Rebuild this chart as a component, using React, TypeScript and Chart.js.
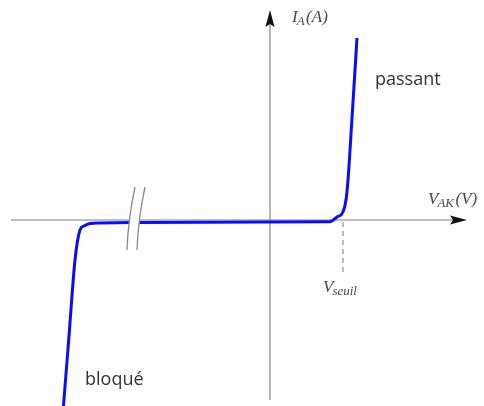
import React, { useEffect, useRef } from "react";
import { Chart, registerables } from "chart.js";

Chart.register(...registerables);

// Diode characteristic I_A = f(V_AK), schematic units
const voltage = [-2.07, -2.01, -1.95, -1.9, -1.86, -1.8, -1.7, -1.4, 0.6, 0.67, 0.73, 0.76, 0.78, 0.825, 0.87];
const current = [-9.6, -5.8, -2.0, -0.5, -0.3, -0.18, -0.15, -0.13, -0.085, 0.15, 0.4, 1.0, 2.0, 5.5, 9.1];

const vSeuil = 0.73;
const xRange = [-2.7, 2.14];
const yRange = [-9.3, 11];

const axisLabels = {
  x: ["V", "AK", "(V)"],
  y: ["I", "A", "(A)"],
  seuil: ["V", "seuil", ""],
};
const regionLabels = ["passant", "bloqué"];

function drawSubscripted(
  ctx: CanvasRenderingContext2D,
  parts: string[],
  x: number,
  y: number,
  size: number
) {
  const [main, sub, rest] = parts;
  ctx.textBaseline = "alphabetic";
  ctx.textAlign = "left";
  ctx.font = `italic ${size}px "Liberation Serif"`;
  ctx.fillText(main, x, y);
  let cx = x + ctx.measureText(main).width - 1;
  const subSize = Math.round(size * 0.74);
  ctx.font = `italic ${subSize}px "Liberation Serif"`;
  ctx.fillText(sub, cx, y + 3);
  cx += ctx.measureText(sub).width + 1.5;
  ctx.font = `italic ${size}px "Liberation Serif"`;
  if (rest) ctx.fillText(rest, cx, y);
}

const axesPlugin = {
  id: "diodeAxes",
  beforeDatasetsDraw(chart: any) {
    const { ctx, scales, height } = chart;
    const x0 = scales.x.getPixelForValue(0);
    const y0 = scales.y.getPixelForValue(0);
    ctx.save();
    ctx.strokeStyle = "#a8a8a8";
    ctx.lineWidth = 1.6;
    // horizontal axis
    ctx.beginPath();
    ctx.moveTo(11, y0);
    ctx.lineTo(455, y0);
    ctx.stroke();
    // vertical axis
    ctx.beginPath();
    ctx.moveTo(x0, height - 6);
    ctx.lineTo(x0, 20);
    ctx.stroke();
    // arrow heads
    ctx.fillStyle = "#111";
    ctx.beginPath();
    ctx.moveTo(467, y0);
    ctx.lineTo(450, y0 - 4.5);
    ctx.lineTo(453, y0);
    ctx.lineTo(450, y0 + 4.5);
    ctx.closePath();
    ctx.fill();
    ctx.beginPath();
    ctx.moveTo(x0, 10);
    ctx.lineTo(x0 - 4.5, 27);
    ctx.lineTo(x0, 24);
    ctx.lineTo(x0 + 4.5, 27);
    ctx.closePath();
    ctx.fill();

    // threshold marker
    const xs = scales.x.getPixelForValue(vSeuil);
    ctx.strokeStyle = "#777";
    ctx.lineWidth = 1;
    ctx.setLineDash([5, 4]);
    ctx.beginPath();
    ctx.moveTo(xs, y0 + 2);
    ctx.lineTo(xs, y0 + 54);
    ctx.stroke();
    ctx.setLineDash([]);
    ctx.restore();
  },
  afterDatasetsDraw(chart: any) {
    const { ctx, scales } = chart;
    const y0 = scales.y.getPixelForValue(0);
    const xs = scales.x.getPixelForValue(vSeuil);
    ctx.save();
    // axis break
    const bx = 131;
    ctx.fillStyle = "#fff";
    ctx.beginPath();
    ctx.moveTo(bx + 4, y0 - 33);
    ctx.quadraticCurveTo(bx - 3, y0, bx - 4, y0 + 30);
    ctx.lineTo(bx + 6, y0 + 30);
    ctx.quadraticCurveTo(bx + 7, y0, bx + 14, y0 - 33);
    ctx.closePath();
    ctx.fill();
    ctx.strokeStyle = "#8a8a8a";
    ctx.lineWidth = 1.3;
    [0, 10].forEach((off) => {
      ctx.beginPath();
      ctx.moveTo(bx + 4 + off, y0 - 33);
      ctx.quadraticCurveTo(bx - 3 + off, y0, bx - 4 + off, y0 + 30);
      ctx.stroke();
    });

    // labels
    ctx.fillStyle = "#4a4a4a";
    drawSubscripted(ctx, axisLabels.y, 292, 22, 17);
    drawSubscripted(ctx, axisLabels.x, 428, 204, 17);
    drawSubscripted(ctx, axisLabels.seuil, xs - 20, 292, 17);

    ctx.fillStyle = "#333";
    ctx.font = '18px "Open Sans"';
    ctx.textBaseline = "middle";
    ctx.textAlign = "left";
    ctx.fillText(regionLabels[0], 375, 80);
    ctx.fillText(regionLabels[1], 85, 380);
    ctx.restore();
  },
};

export default function App() {
  const canvasRef = useRef<HTMLCanvasElement | null>(null);

  useEffect(() => {
    document.body.style.margin = "0";
    const canvas = canvasRef.current;
    if (!canvas) return;
    const chart = new Chart(canvas, {
      type: "line",
      data: {
        datasets: [
          {
            data: voltage.map((v, i) => ({ x: v, y: current[i] })),
            borderColor: "rgb(10,10,255)",
            borderWidth: 3,
            pointRadius: 0,
            cubicInterpolationMode: "monotone",
            fill: false,
          },
        ],
      },
      options: {
        responsive: false,
        animation: false,
        layout: { padding: 0 },
        plugins: { legend: { display: false }, tooltip: { enabled: false } },
        scales: {
          x: { type: "linear", min: xRange[0], max: xRange[1], display: false },
          y: { type: "linear", min: yRange[0], max: yRange[1], display: false },
        },
      },
      plugins: [axesPlugin],
    });
    return () => chart.destroy();
  }, []);

  return (
    <div style={{ width: 484, height: 406, background: "#fff" }}>
      <canvas ref={canvasRef} width={484} height={406} />
    </div>
  );
}
